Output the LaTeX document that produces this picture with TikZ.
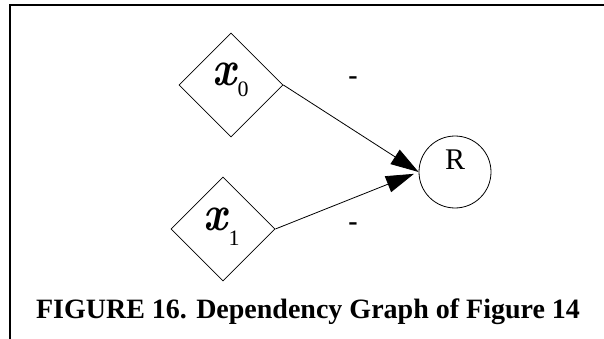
\documentclass[tikz,border=0pt]{standalone}
\usepackage{fontspec}
\setmainfont{Liberation Serif}
\newfontfamily\lmrfont{Latin Modern Roman}
\usepackage{graphicx}
\usetikzlibrary{shapes.geometric,arrows.meta}
\begin{document}
\begin{tikzpicture}[x=1pt,y=-1pt,
 dia/.style={draw,shape=diamond,minimum width=104pt,minimum height=104pt,inner sep=0pt,line width=0.8pt},
 circ/.style={draw,circle,minimum size=72pt,inner sep=0pt,line width=0.8pt},
 arr/.style={line width=0.8pt,-{Triangle[length=28pt,width=17pt]}},
 varx/.style={inner sep=0pt,font=\lmrfont\bfseries\itshape\fontsize{50}{50}\selectfont},
 sublbl/.style={inner sep=0pt,font=\fontsize{22}{22}\selectfont},
 signlbl/.style={inner sep=0pt,anchor=base,font=\bfseries\fontsize{28}{28}\selectfont},
 rlbl/.style={inner sep=0pt,font=\fontsize{30}{30}\selectfont},
 caplbl/.style={inner sep=0pt,anchor=base,font=\bfseries\fontsize{28}{30}\selectfont}
]
\useasboundingbox (0,0) rectangle (604,339);
\draw[line width=2pt] (10,340) -- (10,5) -- (605,5);
\node[dia] (d0) at (231,85) {};
\node[dia] (d1) at (223,229) {};
\node[circ] (R) at (455,172) {};
\node[rlbl] (Rl) at (455,160) {R};
\node[varx] (x0) at (224,74) {\scalebox{0.85}[1]{x}};
\node[sublbl] (s0) at (243,89) {0};
\node[varx] (x1) at (215,219) {\scalebox{0.85}[1]{x}};
\node[sublbl] (s1) at (234,238) {1};
\draw[arr] (d0.east) -- (R.west);
\draw[arr,shorten >=5pt] (d1.east) -- (R.west);
\node[signlbl] (m0) at (353,85) {-};
\node[signlbl] (m1) at (353,230) {-};
\node[caplbl] (cap) at (308,318) {FIGURE 16. Dependency Graph of Figure 14};
\end{tikzpicture}
\end{document}
